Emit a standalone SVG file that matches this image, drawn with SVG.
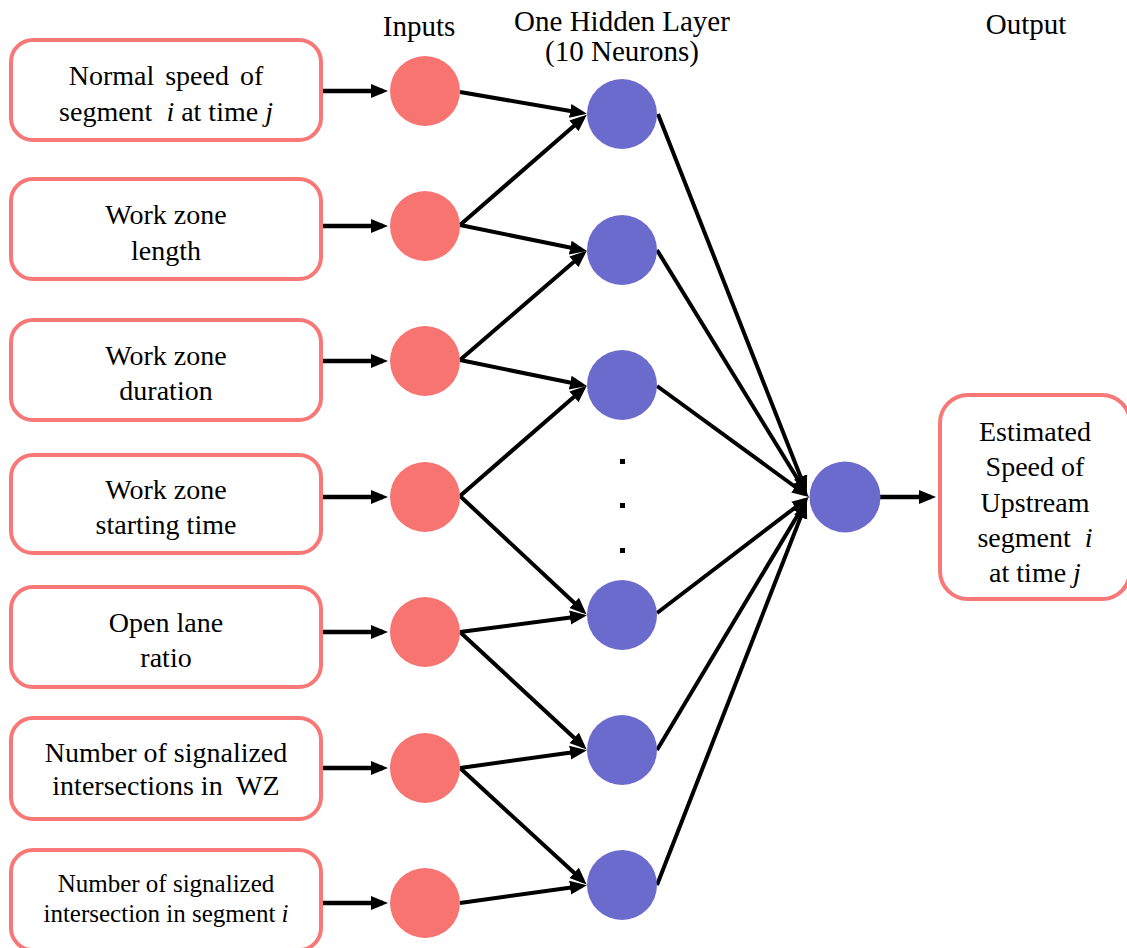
<svg xmlns="http://www.w3.org/2000/svg" width="1127" height="948" viewBox="0 0 1127 948">
<defs>
<style>
.box{fill:#fff;stroke:#F87878;stroke-width:4}
.in{fill:#F87471}
.hid{fill:#6B6BCE}
.t{font-family:"Liberation Serif","Times New Roman",serif;font-size:28px;fill:#000;text-anchor:middle}
.sm{font-size:25px}
.title{font-family:"Liberation Serif","Times New Roman",serif;font-size:29px;fill:#000;text-anchor:middle}
.it{font-style:italic}
.c line{stroke:#000;stroke-width:4;marker-end:url(#ah)}
.c line.thick{stroke-width:4.5}
</style>
<marker id="ah" markerUnits="userSpaceOnUse" markerWidth="17" markerHeight="15" refX="12" refY="7.5" orient="auto">
<path d="M0,0.5 L17,7.5 L0,14.5 z" fill="#000"/>
</marker>
</defs>
<rect width="1127" height="948" fill="#fff"/>

<g id="titles">
<text class="title" x="419" y="36">Inputs</text>
<text class="title" x="622" y="31">One Hidden Layer</text>
<text class="title" x="622" y="61">(10 Neurons)</text>
<text class="title" x="1026" y="34">Output</text>
</g>

<g class="c" id="connectors">
<line class="thick" x1="323" y1="91" x2="383" y2="91"/>
<line class="thick" x1="323" y1="226" x2="383" y2="226"/>
<line class="thick" x1="323" y1="361" x2="383" y2="361"/>
<line class="thick" x1="323" y1="497" x2="383" y2="497"/>
<line class="thick" x1="323" y1="632" x2="383" y2="632"/>
<line class="thick" x1="323" y1="768" x2="383" y2="768"/>
<line class="thick" x1="323" y1="903" x2="383" y2="903"/>

<line x1="460" y1="92" x2="582" y2="113"/>
<line x1="460" y1="225" x2="583" y2="118"/>
<line x1="460" y1="225" x2="582" y2="250"/>
<line x1="460" y1="360" x2="583" y2="254"/>
<line x1="460" y1="360" x2="582" y2="385"/>
<line x1="460" y1="496" x2="583" y2="389"/>
<line x1="460" y1="496" x2="583" y2="611"/>
<line x1="460" y1="632" x2="582" y2="616"/>
<line x1="460" y1="632" x2="583" y2="746"/>
<line x1="460" y1="768" x2="582" y2="751"/>
<line x1="460" y1="768" x2="583" y2="881"/>
<line x1="460" y1="903" x2="582" y2="886"/>

<line x1="658" y1="114" x2="805" y2="488"/>
<line x1="657" y1="250" x2="805" y2="491"/>
<line x1="657" y1="386" x2="805" y2="494"/>
<line x1="657" y1="613" x2="805" y2="500"/>
<line x1="657" y1="750" x2="805" y2="503"/>
<line x1="657" y1="885" x2="805" y2="506"/>

<line class="thick" x1="880" y1="497" x2="931" y2="497"/>
</g>

<g id="box1"><rect class="box" x="11" y="40" width="310" height="100" rx="22"/>
<text class="t" x="166" y="85" word-spacing="4">Normal speed of</text>
<text class="t" x="166" y="121" xml:space="preserve">segment  <tspan class="it">i</tspan> at time <tspan class="it">j</tspan></text></g>
<g id="box2"><rect class="box" x="11" y="179" width="310" height="100" rx="22"/>
<text class="t" x="166" y="224">Work zone</text>
<text class="t" x="166" y="260">length</text></g>
<g id="box3"><rect class="box" x="11" y="320" width="310" height="100" rx="22"/>
<text class="t" x="166" y="365">Work zone</text>
<text class="t" x="166" y="400">duration</text></g>
<g id="box4"><rect class="box" x="11" y="455" width="310" height="98" rx="22"/>
<text class="t" x="166" y="499">Work zone</text>
<text class="t" x="166" y="534">starting time</text></g>
<g id="box5"><rect class="box" x="11" y="587" width="310" height="100" rx="22"/>
<text class="t" x="166" y="632">Open lane</text>
<text class="t" x="166" y="667">ratio</text></g>
<g id="box6"><rect class="box" x="11" y="718" width="310" height="101" rx="22"/>
<text class="t" x="166" y="762">Number of signalized</text>
<text class="t" x="166" y="795" xml:space="preserve">intersections in  WZ</text></g>
<g id="box7"><rect class="box" x="11" y="850" width="310" height="100" rx="22"/>
<text class="t sm" x="166" y="892">Number of signalized</text>
<text class="t sm" x="166" y="922" xml:space="preserve">intersection in segment <tspan class="it">i</tspan></text></g>

<g id="in1"><circle class="in" cx="425" cy="91" r="35"/></g>
<g id="in2"><circle class="in" cx="425" cy="226" r="35"/></g>
<g id="in3"><circle class="in" cx="425" cy="361" r="35"/></g>
<g id="in4"><circle class="in" cx="425" cy="497" r="35"/></g>
<g id="in5"><circle class="in" cx="425" cy="632" r="35"/></g>
<g id="in6"><circle class="in" cx="425" cy="768" r="35"/></g>
<g id="in7"><circle class="in" cx="425" cy="903" r="35"/></g>

<g id="h1"><circle class="hid" cx="622" cy="114" r="35"/></g>
<g id="h2"><circle class="hid" cx="622" cy="250" r="35"/></g>
<g id="h3"><circle class="hid" cx="622" cy="385" r="35"/></g>
<g id="dots">
<rect x="620" y="459" width="5" height="5" fill="#000"/>
<rect x="620" y="503" width="5" height="5" fill="#000"/>
<rect x="620" y="548" width="5" height="5" fill="#000"/>
</g>
<g id="h5"><circle class="hid" cx="622" cy="615" r="35"/></g>
<g id="h6"><circle class="hid" cx="622" cy="750" r="35"/></g>
<g id="h7"><circle class="hid" cx="622" cy="885" r="35"/></g>

<g id="out"><circle class="hid" cx="845" cy="497" r="35.5"/></g>

<g id="outbox"><rect class="box" x="940" y="395" width="190" height="204" rx="28"/>
<text class="t" x="1035" y="441">Estimated</text>
<text class="t" x="1035" y="476">Speed of</text>
<text class="t" x="1035" y="512">Upstream</text>
<text class="t" x="1035" y="547" xml:space="preserve">segment  <tspan class="it">i</tspan></text>
<text class="t" x="1035" y="582">at time <tspan class="it">j</tspan></text></g>
</svg>
